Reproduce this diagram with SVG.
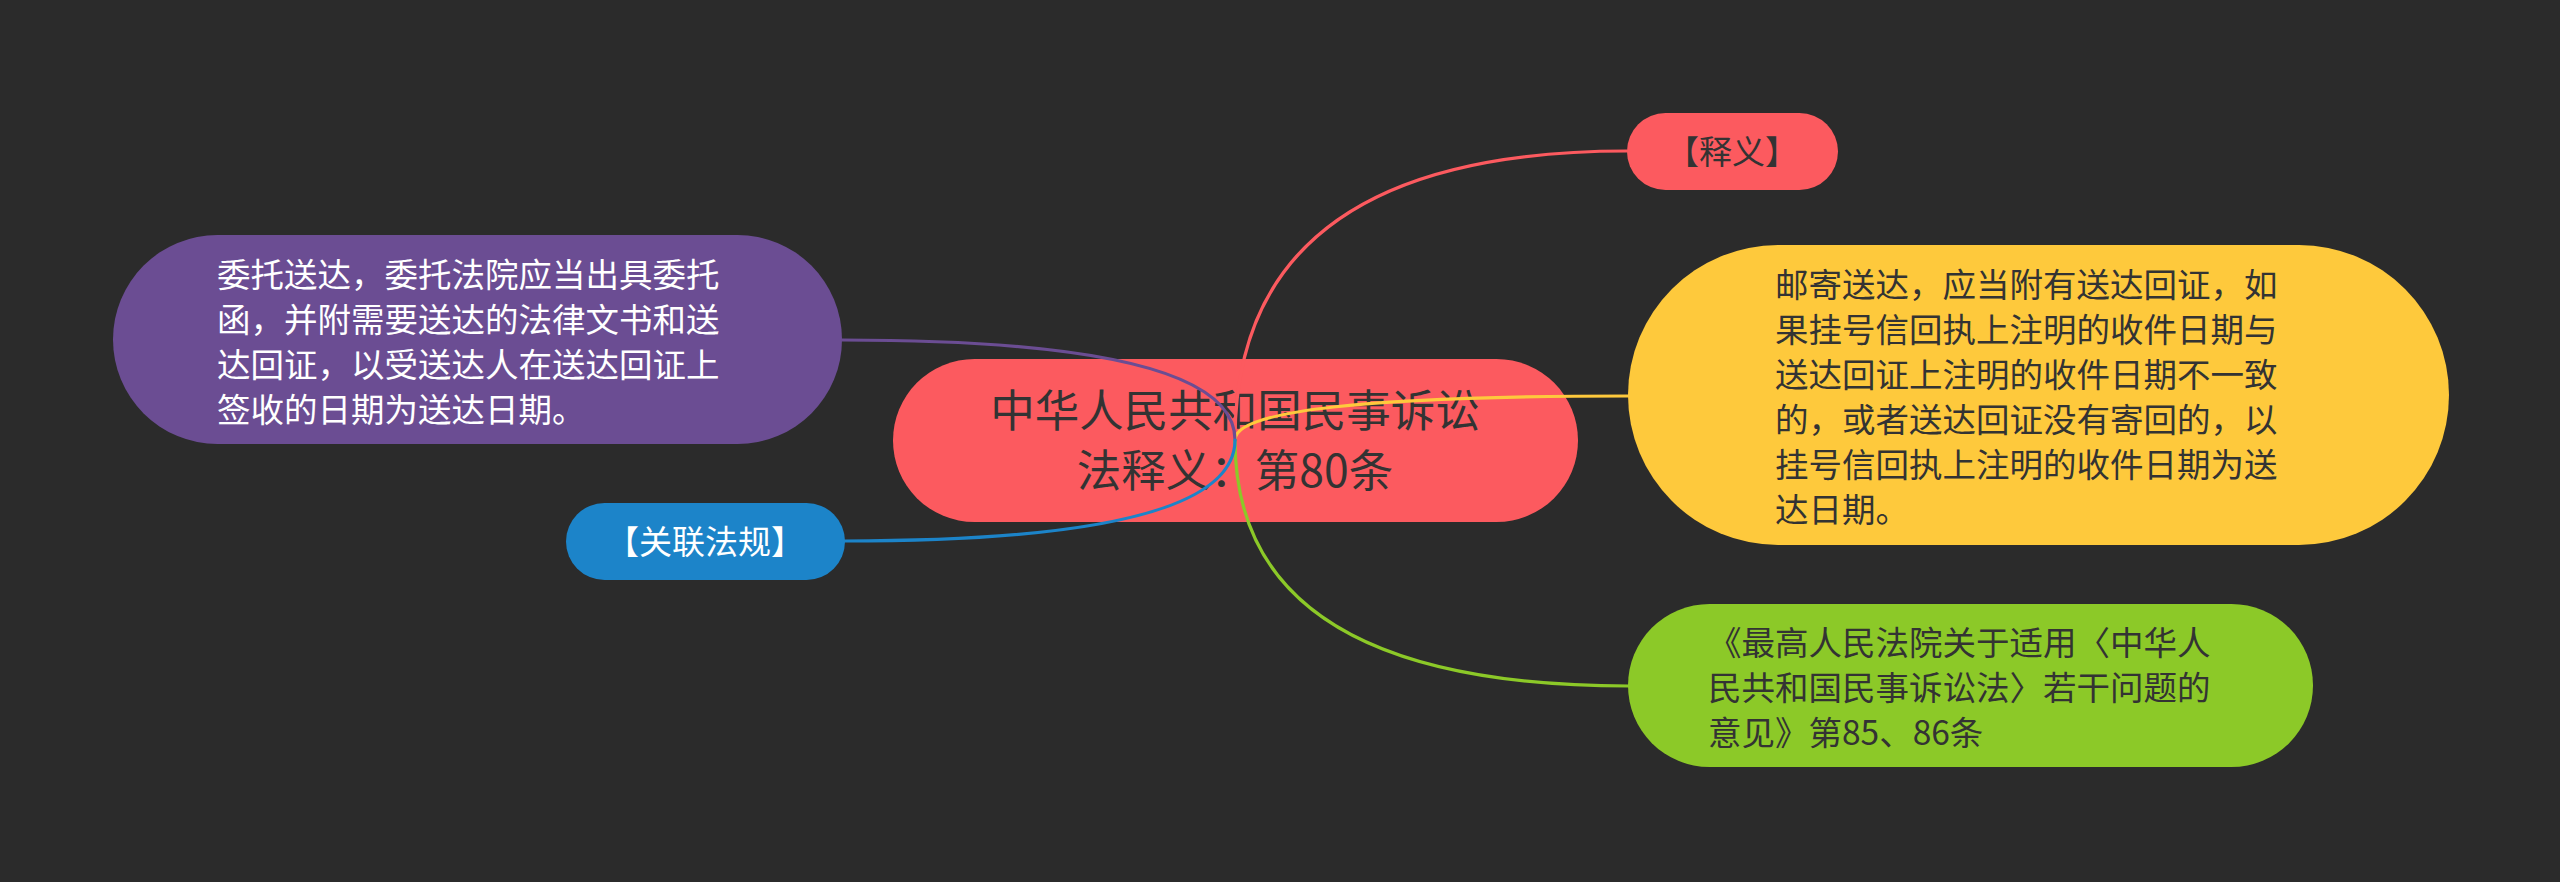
<svg xmlns="http://www.w3.org/2000/svg" width="2560" height="882" viewBox="0 0 2560 882">
<defs>
<style>
.t{font-family:"Noto Sans CJK SC","Noto Sans",sans-serif;}
.dark{fill:#333333;}
.light{fill:#ffffff;}
.conn{fill:none;stroke-width:3.2;stroke-linecap:round;}
</style>
</defs>
<rect x="0" y="0" width="2560" height="882" fill="#2b2b2b"/>
<g id="node-root">
<rect x="893" y="359" width="685" height="163" rx="81.5" fill="#fc5a5f"/>
<text class="t dark" font-size="44.5" text-anchor="middle"><tspan x="1235" y="427">中华人民共和国民事诉讼</tspan><tspan x="1235" y="487">法释义：第80条</tspan></text>
</g>
<g id="connectors">
<path class="conn" stroke="#fc5a5f" d="M1235 440 Q1235 151 1627 151"/>
<path class="conn" stroke="#fec93c" d="M1235 440 Q1235 396 1629 396"/>
<path class="conn" stroke="#8cc928" d="M1235 440 Q1235 686 1629 686"/>
<path class="conn" stroke="#6b4d93" d="M1235 440 Q1235 340 842 340"/>
<path class="conn" stroke="#1c84c9" d="M1235 440 Q1235 541 844 541"/>
</g>
<g id="node-shiyi">
<rect x="1627" y="113" width="211" height="77" rx="38.5" fill="#fc5a5f"/>
<text class="t dark" font-size="33" text-anchor="middle" x="1732" y="163.5">【释义】</text>
</g>
<g id="node-youji">
<rect x="1628" y="245" width="821" height="300" rx="150" fill="#fec93c"/>
<text class="t dark" font-size="33.5"><tspan x="1775" y="297">邮寄送达，应当附有送达回证，如</tspan><tspan x="1775" y="342">果挂号信回执上注明的收件日期与</tspan><tspan x="1775" y="387">送达回证上注明的收件日期不一致</tspan><tspan x="1775" y="432">的，或者送达回证没有寄回的，以</tspan><tspan x="1775" y="477">挂号信回执上注明的收件日期为送</tspan><tspan x="1775" y="522">达日期。</tspan></text>
</g>
<g id="node-yijian">
<rect x="1628" y="604" width="685" height="163" rx="81.5" fill="#8cc928"/>
<text class="t dark" font-size="33.5"><tspan x="1708" y="655">《最高人民法院关于适用〈中华人</tspan><tspan x="1708" y="700">民共和国民事诉讼法〉若干问题的</tspan><tspan x="1708" y="745">意见》第85、86条</tspan></text>
</g>
<g id="node-weituo">
<rect x="113" y="235" width="729" height="209" rx="104.5" fill="#6b4d93"/>
<text class="t light" font-size="33.5"><tspan x="217" y="287">委托送达，委托法院应当出具委托</tspan><tspan x="217" y="332">函，并附需要送达的法律文书和送</tspan><tspan x="217" y="377">达回证，以受送达人在送达回证上</tspan><tspan x="217" y="422">签收的日期为送达日期。</tspan></text>
</g>
<g id="node-guanlian">
<rect x="566" y="503" width="279" height="77" rx="38.5" fill="#1c84c9"/>
<text class="t light" font-size="33" text-anchor="middle" x="705" y="553.5">【关联法规】</text>
</g>
</svg>
